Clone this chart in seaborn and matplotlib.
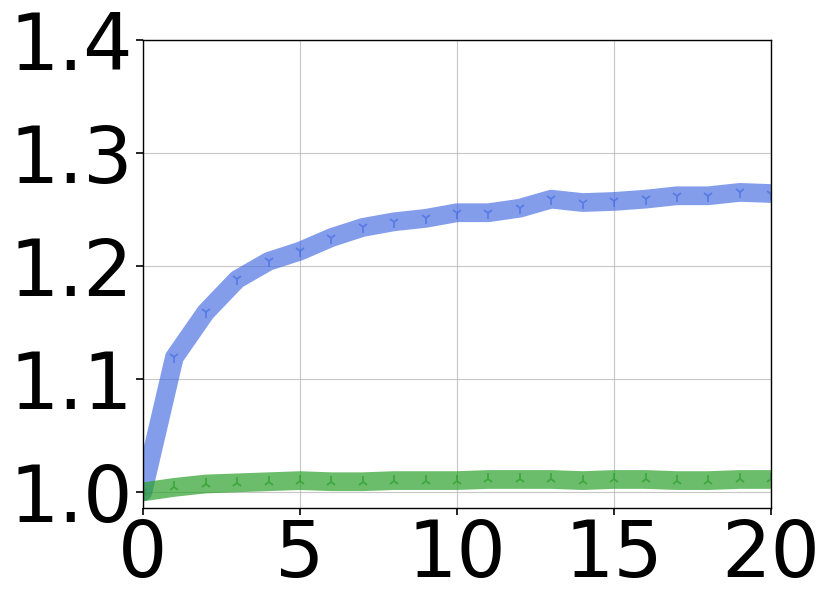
import matplotlib
matplotlib.use("Agg")
import matplotlib.pyplot as plt
import seaborn as sns
import pandas as pd

steps = list(range(21))
blue_vals = [1.000, 1.119, 1.159, 1.188, 1.204, 1.213, 1.225, 1.234, 1.239, 1.242, 1.247,
             1.247, 1.251, 1.259, 1.256, 1.257, 1.259, 1.262, 1.262, 1.265, 1.264]
green_vals = [1.000, 1.004, 1.007, 1.008, 1.009, 1.010, 1.009, 1.009, 1.010, 1.010, 1.010,
              1.011, 1.011, 1.011, 1.010, 1.011, 1.011, 1.010, 1.010, 1.011, 1.011]
x_ticks = [0, 5, 10, 15, 20]
y_ticks = [1.0, 1.1, 1.2, 1.3, 1.4]

sns.set_style("whitegrid", {"axes.edgecolor": "black", "grid.color": "#cccccc",
                            "xtick.bottom": True, "ytick.left": True})
plt.rcParams['font.family'] = ['DejaVu Sans']

fig = plt.figure(figsize=(8.31, 6.03), dpi=100)
ax = fig.add_axes([0.172, 0.158, 0.756, 0.776])

df_b = pd.DataFrame({"step": steps, "val": blue_vals})
df_g = pd.DataFrame({"step": steps, "val": green_vals})

sns.lineplot(data=df_b, x="step", y="val", ax=ax, color="royalblue", alpha=0.65,
             linewidth=13.5, marker="1", markersize=8, markeredgewidth=1.3,
             markeredgecolor="royalblue")
sns.lineplot(data=df_g, x="step", y="val", ax=ax, color="tab:green", alpha=0.7,
             linewidth=13.5, marker="2", markersize=8, markeredgewidth=1.3,
             markeredgecolor="tab:green")

ax.set_xlim(0, 20)
ax.set_ylim(0.986, 1.4)
ax.set_xticks(x_ticks)
ax.set_yticks(y_ticks)
ax.set_yticklabels([f"{v:.1f}" for v in y_ticks])
ax.tick_params(labelsize=56, length=5, width=1.2, color="black", labelcolor="black", pad=2)
ax.set_xlabel("")
ax.set_ylabel("")
for s in ax.spines.values():
    s.set_linewidth(1.0)
    s.set_color("black")
ax.grid(True, color="#b0b0b0", linewidth=0.8, alpha=0.7)

fig.savefig("out.png", dpi=100)
